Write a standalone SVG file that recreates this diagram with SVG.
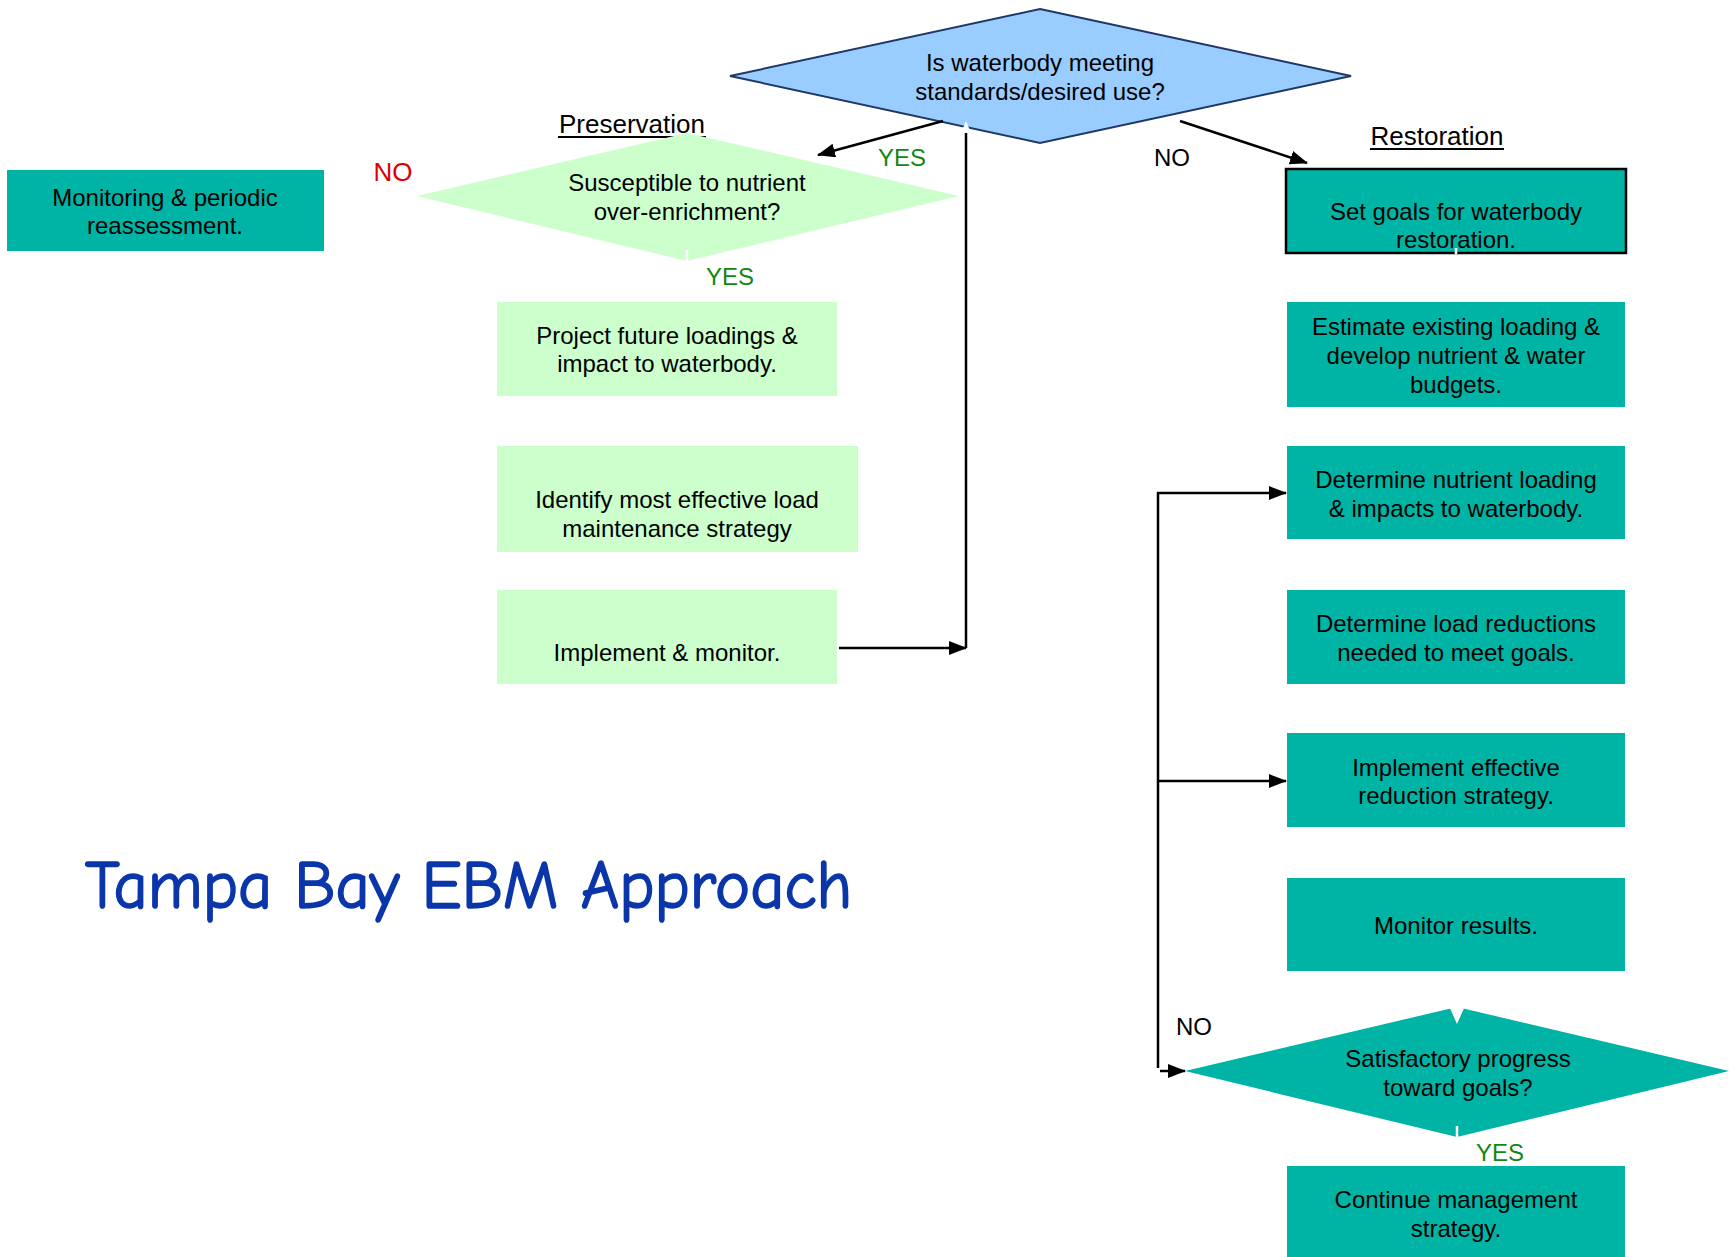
<svg xmlns="http://www.w3.org/2000/svg" width="1729" height="1257" viewBox="0 0 1729 1257">
<defs>
<style>
.t{font-family:"Liberation Sans",Arial,sans-serif;font-size:24px;fill:#000;text-anchor:middle}
.teal{fill:#00B4A5}
.lg{fill:#CCFFCC}
.yes{font-family:"Liberation Sans",Arial,sans-serif;font-size:24px;fill:#118811;text-anchor:middle}
.no{font-family:"Liberation Sans",Arial,sans-serif;font-size:24px;fill:#000;text-anchor:middle}
.hd{font-family:"Liberation Sans",Arial,sans-serif;font-size:26px;fill:#000;text-anchor:middle}
.ln{stroke:#000;stroke-width:2.5;fill:none}
.wl{stroke:#fff;stroke-width:2.5;fill:none}
</style>
<marker id="ah" markerUnits="userSpaceOnUse" markerWidth="18" markerHeight="14" refX="17" refY="7" orient="auto">
<path d="M0,0 L18,7 L0,14 z" fill="#000"/>
</marker>
</defs>
<rect width="1729" height="1257" fill="#fff"/>

<g id="title">
<text x="85" y="908" font-family="'Comic Sans MS','Comic Neue',Lato,sans-serif" font-size="68" fill="#0A36AA" stroke="#0A36AA" stroke-width="1.6" textLength="767" lengthAdjust="spacingAndGlyphs">Tampa Bay EBM Approach</text>
</g>

<g id="hdr-preservation">
<text class="hd" x="632" y="133">Preservation</text>
<line x1="558" y1="137" x2="706" y2="137" stroke="#000" stroke-width="2"/>
</g>
<g id="hdr-restoration">
<text class="hd" x="1437" y="145">Restoration</text>
<line x1="1370" y1="149" x2="1504" y2="149" stroke="#000" stroke-width="2"/>
</g>

<g id="d-meeting">
<polygon points="1040,9 1351,76 1040,143 730,76" fill="#99CCFF" stroke="#1F3864" stroke-width="2"/>
<text class="t" x="1040" y="71">Is waterbody meeting</text>
<text class="t" x="1040" y="100">standards/desired use?</text>
</g>

<g id="n-monitoring">
<rect class="teal" x="7" y="170" width="317" height="81"/>
<text class="t" x="165" y="206">Monitoring &amp; periodic</text>
<text class="t" x="165" y="234">reassessment.</text>
</g>

<g id="d-susceptible">
<polygon class="lg" points="687,133 959,196 687,261 417,196"/>
<text class="t" x="687" y="191">Susceptible to nutrient</text>
<text class="t" x="687" y="220">over-enrichment?</text>
</g>

<g id="n-project">
<rect class="lg" x="497" y="302" width="340" height="94"/>
<text class="t" x="667" y="344">Project future loadings &amp;</text>
<text class="t" x="667" y="372">impact to waterbody.</text>
</g>

<g id="n-identify">
<rect class="lg" x="497" y="446" width="361" height="106"/>
<text class="t" x="677" y="508">Identify most effective load</text>
<text class="t" x="677" y="537">maintenance strategy</text>
</g>

<g id="n-implement-monitor">
<rect class="lg" x="497" y="590" width="340" height="94"/>
<text class="t" x="667" y="661">Implement &amp; monitor.</text>
</g>

<g id="n-setgoals">
<rect class="teal" x="1286" y="169" width="340" height="84" stroke="#000" stroke-width="2.5"/>
<text class="t" x="1456" y="220">Set goals for waterbody</text>
<text class="t" x="1456" y="248">restoration.</text>
</g>

<g id="n-estimate">
<rect class="teal" x="1287" y="302" width="338" height="105"/>
<text class="t" x="1456" y="335">Estimate existing loading &amp;</text>
<text class="t" x="1456" y="364">develop nutrient &amp; water</text>
<text class="t" x="1456" y="393">budgets.</text>
</g>

<g id="n-det-nutrient">
<rect class="teal" x="1287" y="446" width="338" height="93"/>
<text class="t" x="1456" y="488">Determine nutrient loading</text>
<text class="t" x="1456" y="517">&amp; impacts to waterbody.</text>
</g>

<g id="n-det-load">
<rect class="teal" x="1287" y="590" width="338" height="94"/>
<text class="t" x="1456" y="632">Determine load reductions</text>
<text class="t" x="1456" y="661">needed to meet goals.</text>
</g>

<g id="n-impl-effective">
<rect class="teal" x="1287" y="733" width="338" height="94"/>
<text class="t" x="1456" y="776">Implement effective</text>
<text class="t" x="1456" y="804">reduction strategy.</text>
</g>

<g id="n-monitor-results">
<rect class="teal" x="1287" y="878" width="338" height="93"/>
<text class="t" x="1456" y="934">Monitor results.</text>
</g>

<g id="d-satisfactory">
<polygon class="teal" points="1457,1007 1729,1071 1457,1137 1185,1071"/>
<text class="t" x="1458" y="1067">Satisfactory progress</text>
<text class="t" x="1458" y="1096">toward goals?</text>
</g>

<g id="n-continue">
<rect class="teal" x="1287" y="1166" width="338" height="91"/>
<text class="t" x="1456" y="1208">Continue management</text>
<text class="t" x="1456" y="1237">strategy.</text>
</g>

<g id="connectors">
<line class="ln" x1="943" y1="121" x2="818" y2="155" marker-end="url(#ah)"/>
<line class="ln" x1="1180" y1="121" x2="1307" y2="163" marker-end="url(#ah)"/>
<line class="ln" x1="966" y1="133" x2="966" y2="648"/>
<polygon points="966,121 961,133 971,133" fill="#fff"/>
<line class="ln" x1="839" y1="648" x2="966" y2="648" marker-end="url(#ah)"/>
<line class="ln" x1="1158" y1="492" x2="1158" y2="1068"/>
<line class="ln" x1="1157" y1="493" x2="1286" y2="493" marker-end="url(#ah)"/>
<line class="ln" x1="1157" y1="781" x2="1286" y2="781" marker-end="url(#ah)"/>
<line class="ln" x1="1160" y1="1071" x2="1185" y2="1071" marker-end="url(#ah)"/>
<line class="wl" x1="687" y1="250" x2="687" y2="262"/>
<line class="wl" x1="1457" y1="1126" x2="1457" y2="1138"/>
<line class="wl" x1="1456" y1="248" x2="1456" y2="254"/>
<polygon points="1449,1006 1465,1006 1457,1024" fill="#fff"/>
</g>

<g id="labels">
<text class="yes" x="902" y="166">YES</text>
<text class="yes" x="730" y="285">YES</text>
<text class="yes" x="1500" y="1161">YES</text>
<text class="no" x="1172" y="166">NO</text>
<text class="no" x="1194" y="1035">NO</text>
<text x="393" y="181" font-family="'Liberation Sans',Arial,sans-serif" font-size="26" fill="#DD0000" text-anchor="middle">NO</text>
</g>
</svg>
